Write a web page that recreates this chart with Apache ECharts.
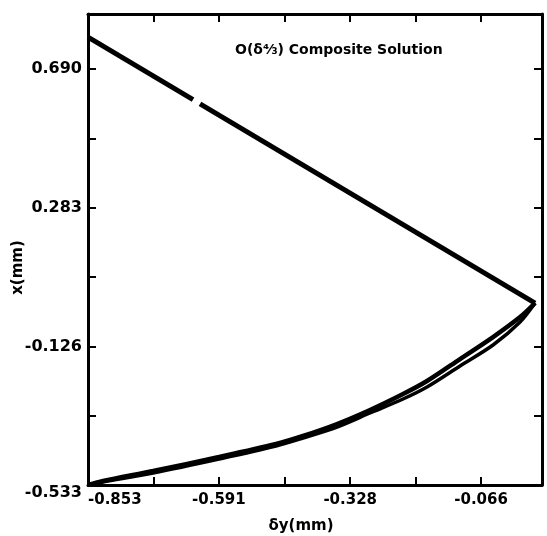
<!DOCTYPE html>
<html><head><meta charset="utf-8">
<script src="https://cdn.jsdelivr.net/npm/echarts@6/dist/echarts.min.js"></script>
<style>html,body{margin:0;padding:0;background:#fff}#c{width:547px;height:536px}</style>
</head><body><div id="c"></div>
<script>
// axis ticks and labels
const xTickValues = [-0.853, -0.722, -0.591, -0.459, -0.328, -0.197, -0.066];
const xLabelValues = [-0.853, -0.591, -0.328, -0.066];
const xLabelTexts = ['-0.853', '-0.591', '-0.328', '-0.066'];
const yTickValues = [-0.533, -0.3295, -0.126, 0.0785, 0.283, 0.4865, 0.690];
const yLabelValues = [-0.533, -0.126, 0.283, 0.690];
const yLabelTexts = ['-0.533', '-0.126', '0.283', '0.690'];

// straight branch (with a small break in the trace)
const straightX1 = [-0.853, -0.6427];
const straightY1 = [0.784, 0.600];
const straightX2 = [-0.6287, 0.0421];
const straightY2 = [0.588, 0.0021];

// curved branches (upper and lower sides of the narrow loop)
const upperX = [0.0421, 0.0121, -0.0420, -0.1081, -0.1742, -0.2222, -0.2883, -0.3544, -0.4225, -0.4765, -0.5907, -0.7228, -0.8230, -0.853];
const upperY = [0.0021, -0.0391, -0.0979, -0.1626, -0.2272, -0.2655, -0.3125, -0.3537, -0.3889, -0.4125, -0.4507, -0.4918, -0.5212, -0.533];
const lowerX = [0.0421, 0.0121, -0.0420, -0.1081, -0.1742, -0.2222, -0.2883, -0.3544, -0.4225, -0.4765, -0.5907, -0.7228, -0.8230, -0.853];
const lowerY = [0.0021, -0.0538, -0.1214, -0.1831, -0.2449, -0.2802, -0.3213, -0.3625, -0.3948, -0.4183, -0.4566, -0.4977, -0.5242, -0.533];

const zip = (xs, ys) => xs.map((x, i) => [x, ys[i]]);
const lookup = (vals, texts) => v => {
  let best = 0;
  vals.forEach((c, i) => { if (Math.abs(c - v) < Math.abs(vals[best] - v)) best = i; });
  return texts[best];
};

const FONT = 'DejaVu Sans';
const X_MIN = -0.853, X_MAX = 0.056, Y_MIN = -0.533, Y_MAX = 0.852;
const lineCol = '#000';
const axisLine = { onZero: false, lineStyle: { color: lineCol, width: 3 } };
const tick = (vals) => ({ inside: true, length: 8, customValues: vals, lineStyle: { color: lineCol, width: 2 } });
const labelStyle = { fontFamily: FONT, fontWeight: 'bold', fontSize: 15, color: '#000' };

const chart = echarts.init(document.getElementById('c'), null, { renderer: 'canvas' });
chart.setOption({
  animation: false,
  backgroundColor: '#fff',
  grid: { left: 88, right: 5, top: 14, bottom: 51, containLabel: false, outerBoundsMode: 'none' },
  title: {
    text: 'O(δ⁴⁄₃) Composite Solution',
    left: 230, top: 38,
    textStyle: { fontFamily: FONT, fontWeight: 'bold', fontSize: 14, color: '#000' }
  },
  xAxis: [
    {
      type: 'value', min: X_MIN, max: X_MAX, position: 'bottom',
      axisLine, axisTick: tick(xTickValues), splitLine: { show: false },
      axisLabel: Object.assign({ customValues: xLabelValues, formatter: lookup(xLabelValues, xLabelTexts), margin: 8, alignMinLabel: 'left' }, labelStyle),
      name: 'δy(mm)', nameLocation: 'middle', nameGap: 34, nameMoveOverlap: false,
      nameTextStyle: Object.assign({ padding: [0, 28, 0, 0] }, labelStyle)
    },
    {
      type: 'value', min: X_MIN, max: X_MAX, position: 'top',
      axisLine, axisTick: tick(xTickValues), splitLine: { show: false },
      axisLabel: { show: false }
    }
  ],
  yAxis: [
    {
      type: 'value', min: Y_MIN, max: Y_MAX, position: 'left',
      axisLine, axisTick: tick(yTickValues), splitLine: { show: false },
      axisLabel: Object.assign({ customValues: yLabelValues, formatter: lookup(yLabelValues, yLabelTexts), margin: 6, verticalAlignMinLabel: 'top' }, labelStyle, { fontSize: 16 }),
      name: 'x(mm)', nameLocation: 'middle', nameGap: 62, nameMoveOverlap: false,
      nameTextStyle: Object.assign({ padding: [0, 36, 0, 0] }, labelStyle)
    },
    {
      type: 'value', min: Y_MIN, max: Y_MAX, position: 'right',
      axisLine, axisTick: tick(yTickValues), splitLine: { show: false },
      axisLabel: { show: false }
    }
  ],
  series: [
    { type: 'line', data: zip(straightX1, straightY1), showSymbol: false, lineStyle: { color: lineCol, width: 5 } },
    { type: 'line', data: zip(straightX2, straightY2), showSymbol: false, lineStyle: { color: lineCol, width: 5 } },
    { type: 'line', data: zip(upperX, upperY), showSymbol: false, smooth: 0.3, lineStyle: { color: lineCol, width: 4.5 } },
    { type: 'line', data: zip(lowerX, lowerY), showSymbol: false, smooth: 0.3, lineStyle: { color: lineCol, width: 3.5 } }
  ]
});
</script>
</body></html>
